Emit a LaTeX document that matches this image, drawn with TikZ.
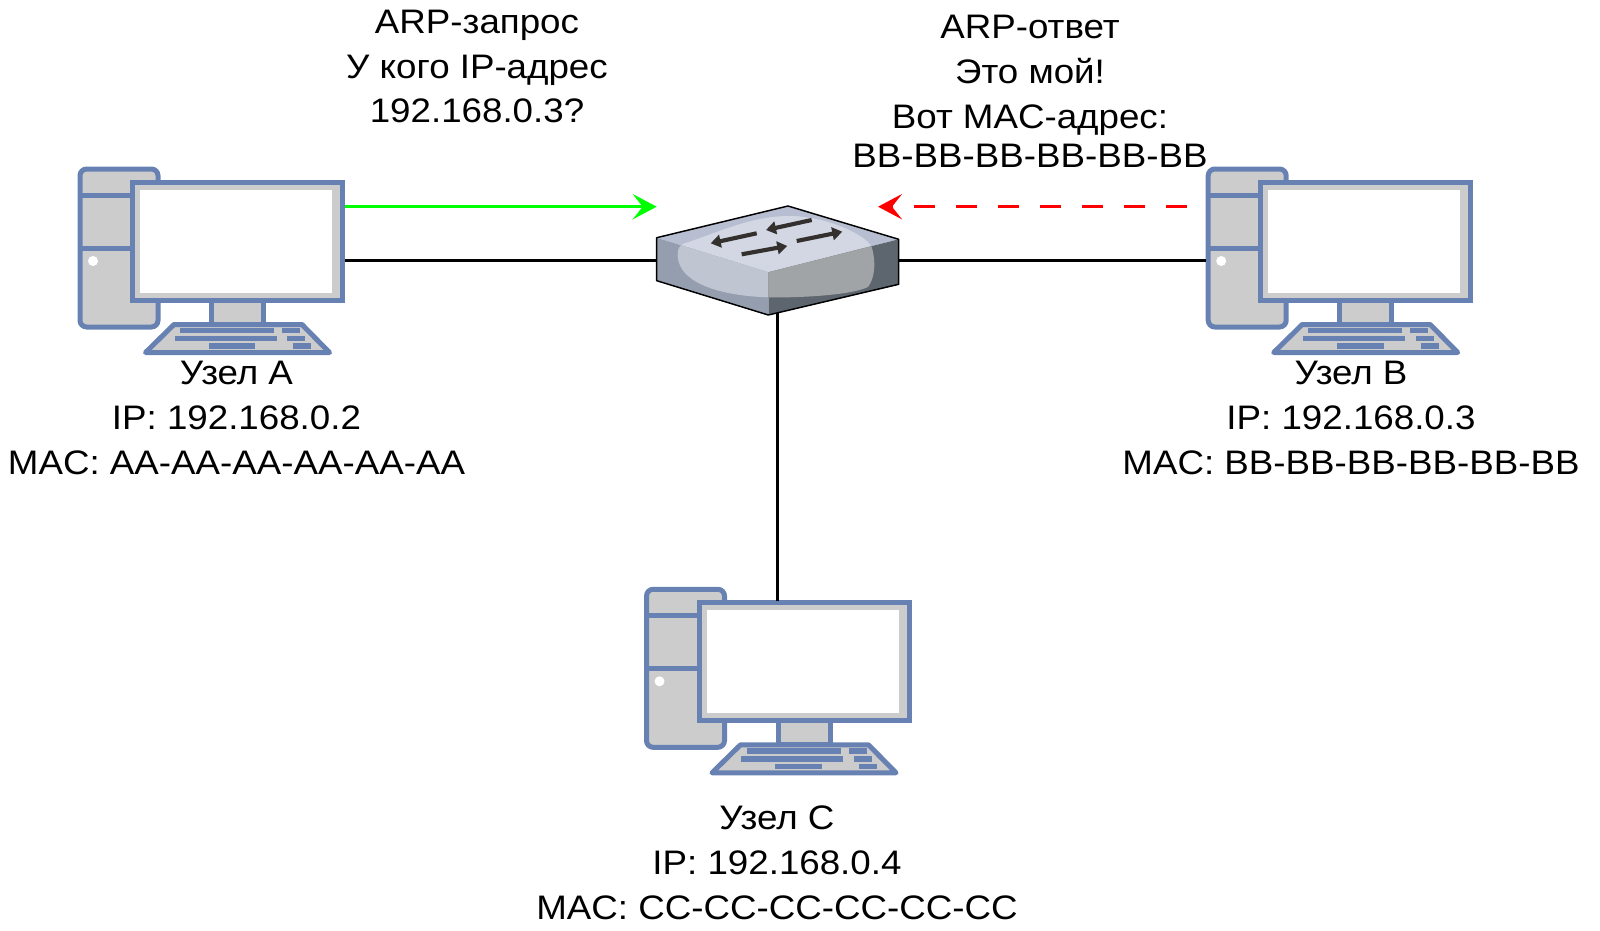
\documentclass[tikz,border=0pt]{standalone}
\usepackage{fontspec}
\setmainfont[FakeStretch=1.08]{Liberation Sans}
\usetikzlibrary{arrows.meta,positioning}
\definecolor{pcblue}{HTML}{6881B3}
\definecolor{pcgray}{HTML}{CCCCCC}
\definecolor{swarrow}{HTML}{33302E}
\def\swblob{(677.7,256.7) .. controls (677.7,250) and (678,246) .. (684,243.5)
    .. controls (720,232) and (750,216) .. (790,216)
    .. controls (825,216) and (868,235) .. (872,248)
    .. controls (876,262) and (875,278) .. (868,287)
    .. controls (850,296) and (790,298) .. (768,297.3)
    .. controls (725,296) and (680,285) .. (677.7,256.7) -- cycle}

\begin{document}
\begin{tikzpicture}[x=0.75pt, y=-0.75pt,
        pcpart/.style={draw=pcblue, fill=pcgray, line width=3.75pt},
        monitor/.style={rectangle, pcpart, minimum width=157.5pt, minimum height=88.5pt},
        link/.style={draw, line width=2.1pt},
        msg/.style={link, -{Stealth[length=18pt, width=19pt, inset=7.5pt]}},
        swmark/.style={draw=swarrow, line width=3.1pt, -{Triangle[length=7.5pt, width=9.5pt]}},
        label/.style={align=center, anchor=base, inner sep=0pt, font=\fontsize{25.5}{33.5}\selectfont},
        pics/computer/.style={code={
            \draw [pcpart, rounded corners=5pt] (0,-1) rectangle (78,157);
            \draw [pcblue, line width=3.75pt] (0,25) -- (52,25) (0,78) -- (52,78);
            \fill [white] (13,91) circle (3.75pt);
            \draw [pcpart] (131.5,130) rectangle (183.5,154.5);
            \node [monitor] (-mon) at (157.5,71.5) {};
            \fill [white] (60,19.5) rectangle (252,122.7);
            \draw [pcpart, line join=round] (94,154.5) -- (222,154.5) -- (249.5,182.5) -- (65.5,182.5) -- cycle;
            \foreach \xa/\ya/\xb/\yb in {100/157.7/194/163.3, 202/157.7/220/163.3, 94.7/165.7/196.7/171.3,
                207.3/165.7/225.3/171.3, 128.7/173.3/175.3/178.7, 212.7/173.3/230.7/178.7}
                \fill [pcblue] (\xa,\ya) rectangle (\xb,\yb);
            \coordinate (-lanw) at (-2.5,90.7);
            \coordinate (-lane) at (265,90.7);
            \coordinate (-lann) at (130.8,11);
            \coordinate (-msge) at (265,36.7);
            \coordinate (-msgw) at (-21,36.7);
        }}]

    \path [use as bounding box] (0,0) rectangle (1600,931);

    \pic (compa) at (80,170) {computer};
    \pic (compb) at (1208.2,170) {computer};
    \pic (compc) at (646.5,590.3) {computer};

    \coordinate (swl) at (656.7,237.7);
    \coordinate (swt) at (788,206);
    \coordinate (swr) at (898.7,239.3);
    \coordinate (swc) at (768.3,272.3);
    \coordinate (swbl) at (656.7,280.7);
    \coordinate (swb) at (768.3,315);
    \coordinate (swbr) at (898.7,284.3);
    \coordinate (swwest) at (656.7,260.7);
    \coordinate (sweast) at (898.7,260.7);
    \coordinate (swsouth) at (777.3,312);
    \coordinate (reqtip) at (656.7,206.7);
    \coordinate (resptip) at (878,206.7);

    \path [link] (compa-lane) -- (swwest);
    \path [link] (compb-lanw) -- (sweast);
    \path [link] (compc-lann) -- (swsouth);

    \foreach \fa/\fb/\fc/\fd/\base/\high in {swl/swt/swr/swc/B7BED1/D3D7E3,
        swl/swc/swb/swbl/959EAE/BFC6D2, swc/swr/swbr/swb/5D666E/A0A4A6} {
        \definecolor{swbase}{HTML}{\base}
        \definecolor{swhigh}{HTML}{\high}
        \begin{scope}
            \clip (\fa) -- (\fb) -- (\fc) -- (\fd) -- cycle;
            \fill [swbase] (\fa) -- (\fb) -- (\fc) -- (\fd) -- cycle;
            \fill [swhigh] \swblob;
        \end{scope}
    }
    \draw [line width=1.1pt, line join=round] (swl) -- (swt) -- (swr) -- (swbr) -- (swb) -- (swbl) -- cycle;
    \path [swmark] (811.7,220) -- (766,230);
    \path [swmark] (756.7,233.3) -- (710.7,243.3);
    \path [swmark] (741.7,254.3) -- (787.3,246);
    \path [swmark] (796.7,241) -- (842.3,231.7);

    \path [msg, green] (compa-msge) -- (reqtip);
    \path [msg, red, dash pattern=on 15.75pt off 15.75pt] (compb-msgw) -- (resptip);

    \node [label] (reqtxt) at (477,122.7) {ARP-запрос\\У кого IP-адрес\\192.168.0.3?};
    \node [label] (resptxt) at (1030,167.7) {ARP-ответ\\Это мой!\\Вот MAC-адрес:\\[-3.8pt]BB-BB-BB-BB-BB-BB};
    \node [label] (lbla) at (236.5,474) {Узел A\\IP: 192.168.0.2\\MAC: AA-AA-AA-AA-AA-AA};
    \node [label] (lblb) at (1351,474) {Узел B\\IP: 192.168.0.3\\MAC: BB-BB-BB-BB-BB-BB};
    \node [label] (lblc) at (777,919) {Узел C\\IP: 192.168.0.4\\MAC: CC-CC-CC-CC-CC-CC};

\end{tikzpicture}
\end{document}
